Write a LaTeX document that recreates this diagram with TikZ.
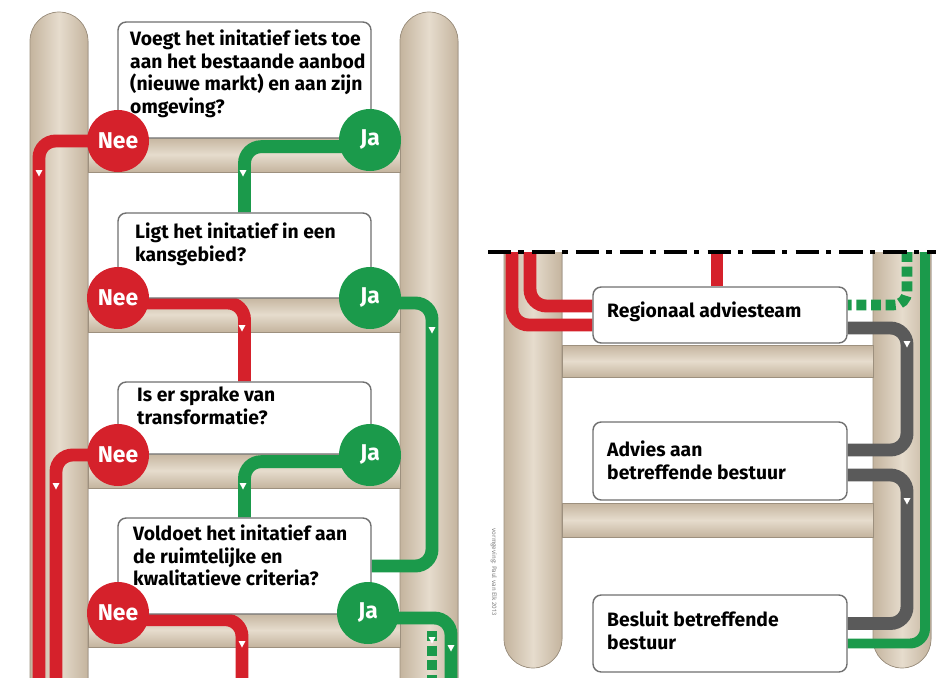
\documentclass[tikz,border=0pt]{standalone}
\usepackage{fontspec}
\setmainfont{Fira Sans}
\usetikzlibrary{calc}

\definecolor{neered}{HTML}{D5212B}
\definecolor{jagreen}{HTML}{1B9A4B}
\definecolor{railtan}{HTML}{E6DCCD}
\definecolor{railedge}{HTML}{C4B49E}
\definecolor{boxgray}{HTML}{707070}
\definecolor{flowgray}{HTML}{5A5A5A}

\pgfdeclarelayer{back}
\pgfdeclarelayer{flow}
\pgfsetlayers{back,flow,main}

\tikzset{
  rail/.style={draw=railedge!80!black, line width=0.6pt, left color=railedge, right color=railedge, middle color=railtan},
  rung/.style={draw=railedge!80!black, line width=0.6pt, top color=railedge, bottom color=railedge, middle color=railtan},
  qbox/.style={draw=boxgray, line width=1.2pt, fill=white, rounded corners=7pt, inner sep=0pt},
  qtext/.style={anchor=north west, align=left, inner sep=0pt, font=\bfseries\fontsize{16.5}{19.2}\selectfont},
  nee/.style={circle, fill=neered, minimum size=1.86cm, inner sep=0pt, text=white, font=\bfseries\fontsize{19.5}{21}\selectfont},
  ja/.style={nee, fill=jagreen},
  neeline/.style={neered, line width=11pt, rounded corners=0.5cm},
  jaline/.style={jagreen, line width=11pt, rounded corners=0.5cm},
  jadots/.style={jagreen, line width=9pt, dash pattern=on 8.5pt off 4pt},
  grayline/.style={flowgray, line width=11pt, rounded corners=0.5cm},
  cutline/.style={black, line width=3.2pt, dash pattern=on 20pt off 6pt on 4.5pt off 7pt}
}

\begin{document}
\begin{tikzpicture}[x=0.03cm, y=-0.03cm]
  \useasboundingbox (0,0) rectangle (936,677);
  % -=-=-=-=- LEFT LADDER -=-=-=-=-
  \begin{pgfonlayer}{back}
    \fill[rail, rounded corners=0.87cm] (30,12) rectangle (88,740);
    \fill[rail, rounded corners=0.87cm] (400,12) rectangle (458,740);
    \draw[rung] (88,137) rectangle (400,172);
    \draw[rung] (88,297) rectangle (400,332);
    \draw[rung] (88,453) rectangle (400,488);
    \draw[rung] (88,613) rectangle (400,647);
  \end{pgfonlayer}

  \node[qbox, minimum width=7.59cm, minimum height=3.48cm] (q1) at (244.5,80) {};
  \node[qbox, minimum width=7.59cm, minimum height=2.55cm] (q2) at (244.5,255.5) {};
  \node[qbox, minimum width=7.59cm, minimum height=2.16cm] (q3) at (244.5,418) {};
  \node[qbox, minimum width=7.59cm, minimum height=2.88cm] (q4) at (244.5,566) {};
  \node[qtext] (q1t) at (130,30) {Voegt het initatief iets toe\\aan het bestaande aanbod\\(nieuwe markt) en aan zijn\\omgeving?};
  \node[qtext] (q2t) at (135,223) {Ligt het initatief in een\\kansgebied?};
  \node[qtext] (q3t) at (137,387) {Is er sprake van\\transformatie?};
  \node[qtext] (q4t) at (133,525) {Voldoet het initatief aan\\de ruimtelijke en\\kwalitatieve criteria?};

  \node[nee] (nee1) at (118,141) {Nee};
  \node[ja]  (ja1)  at (370,140) {Ja};
  \node[nee] (nee2) at (118,298) {Nee};
  \node[ja]  (ja2)  at (370,298) {Ja};
  \node[nee] (nee3) at (118,455) {Nee};
  \node[ja]  (ja3)  at (370,455) {Ja};
  \node[nee] (nee4) at (118,613) {Nee};
  \node[ja]  (ja4)  at (368,613) {Ja};

  \coordinate (out1) at (39,720);
  \coordinate (out3) at (56,720);
  \coordinate (out4) at (242,720);
  \coordinate (outja) at (451,720);
  \coordinate (jarail) at (432,420);
  \coordinate (dots1) at (432,631);
  \coordinate (dots2) at (432,720);

  \begin{pgfonlayer}{flow}
    \draw[neeline] (nee1.center) -| (out1);
    \draw[jaline]  ([yshift=-0.2cm]ja1.center) -| (q2.north);
    \draw[neeline] ([yshift=-0.15cm]nee2.center) -| (q3.north);
    \draw[jaline]  ([yshift=-0.15cm]ja2.center) -| (jarail) |- (q4.east);
    \draw[neeline] (nee3.center) -| (out3);
    \draw[jaline]  ([yshift=-0.2cm]ja3.center) -| (q4.north);
    \draw[neeline] ([yshift=-0.2cm]nee4.center) -| (out4);
    \draw[jaline]  ([yshift=-0.15cm]ja4.center) -| (outja);
    \draw[jadots]  (dots1) -- (dots2);
  \end{pgfonlayer}

  % -=-=-=-=- RIGHT LADDER -=-=-=-=-
  \begin{pgfonlayer}{back}
    \begin{scope}
      \clip (480,252) rectangle (936,677);
      \fill[rail, rounded corners=0.87cm] (504,150) rectangle (562,668);
      \fill[rail, rounded corners=0.87cm] (873,150) rectangle (931,668);
    \end{scope}
    \draw[rung] (562,345) rectangle (873,377);
    \draw[rung] (562,503) rectangle (873,537);
  \end{pgfonlayer}

  \node[qbox, minimum width=7.62cm, minimum height=1.68cm] (ra) at (720,315) {};
  \node[qbox, minimum width=7.62cm, minimum height=2.34cm] (ab) at (720,461) {};
  \node[qbox, minimum width=7.62cm, minimum height=2.31cm] (bb) at (720,633.5) {};
  \node[qtext] (rat) at (607,302) {Regionaal adviesteam};
  \node[qtext] (abt) at (607,441) {Advies aan\\betreffende bestuur};
  \node[qtext] (bbt) at (607,611) {Besluit betreffende\\bestuur};

  \coordinate (rin1) at (512,252);
  \coordinate (rin2) at (530,252);
  \coordinate (rin3) at (717,252);
  \coordinate (gin1) at (907,252);
  \coordinate (gin2) at (925,252);
  \coordinate (grail1) at (907,390);
  \coordinate (grail2) at (907,560);

  \begin{pgfonlayer}{flow}
    \draw[neeline] (rin1) |- ($(ra.west)+(0,10)$);
    \draw[neeline] (rin2) |- ($(ra.west)+(0,-9)$);
    \draw[neeline] (rin3) -- (rin3 |- ra.north);
    \draw[jadots, rounded corners=0.4cm] (gin1) |- ($(ra.east)+(0,-10)$);
    \draw[grayline] ($(ra.east)+(0,13)$) -| (grail1) |- ($(ab.east)+(0,-11)$);
    \draw[grayline] ($(ab.east)+(0,14)$) -| (grail2) |- ($(bb.east)+(0,-10)$);
    \draw[jagreen, line width=8.5pt, rounded corners=0.45cm] (gin2) |- ($(bb.east)+(0,10)$);
  \end{pgfonlayer}

  % small arrow heads on the lines
  \foreach \x/\y in {39/173, 243/173, 242/328, 432/330, 56/486, 243/486, 242/644,
                     451/648, 432/640, 907/344, 907/501}
    \fill[white] (\x-3.5,\y-3) -- (\x+3.5,\y-3) -- (\x,\y+3.5) -- cycle;

  \draw[cutline] (488,252) -- (936,252);

  \node[rotate=-90, text=gray, font=\fontsize{5.5}{6}\selectfont] (credit) at (494,572) {vormgeving: Paul van Elk 2013};
\end{tikzpicture}
\end{document}
